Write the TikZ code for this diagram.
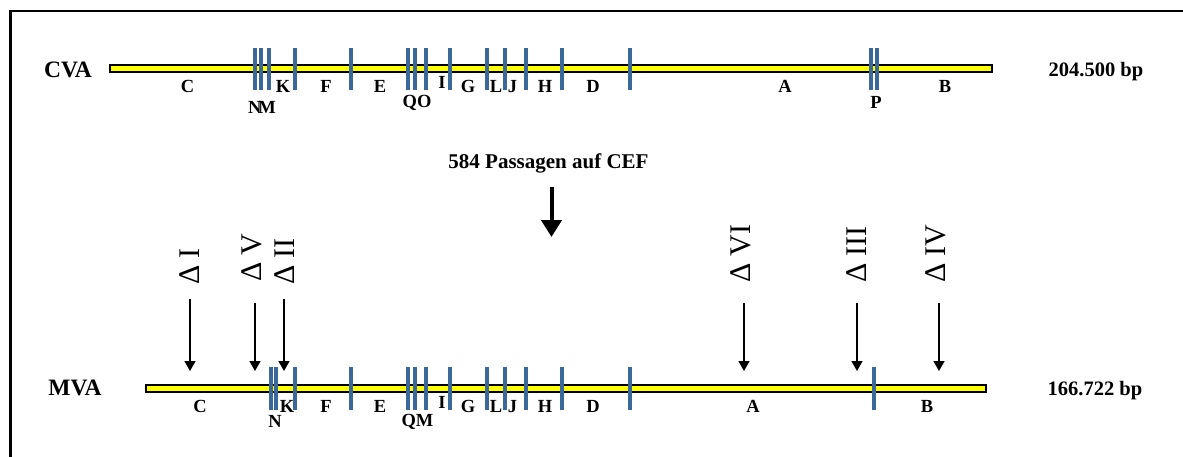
\documentclass[tikz,border=0pt]{standalone}
\usepackage{fontspec}
\setmainfont{Liberation Serif}
\usetikzlibrary{arrows.meta}
\definecolor{locusblue}{RGB}{58,104,152}
\definecolor{genomeyellow}{RGB}{255,255,0}
\begin{document}
\begin{tikzpicture}[x=1pt,y=-1pt,
  genome/.style={draw=black, line width=1.2pt, fill=genomeyellow, inner sep=0pt, minimum height=7pt},
  locus/.style={draw=locusblue, line width=4pt},
  gene/.style={font=\bfseries\fontsize{18.5}{19}\selectfont, anchor=base, inner sep=0pt},
  strain/.style={font=\bfseries\fontsize{23.5}{24}\selectfont, anchor=base, inner sep=0pt},
  sizelabel/.style={font=\bfseries\fontsize{20.5}{22}\selectfont, anchor=base, inner sep=0pt},
  deletion/.style={font=\fontsize{30}{32}\selectfont, rotate=90, anchor=west, inner sep=0pt},
  delarrow/.style={line width=1.5pt, -{Triangle[length=10pt,width=11pt]}},
  passarrow/.style={line width=4pt, -{Triangle[length=17pt,width=20pt]}},
]
\useasboundingbox (0,0) rectangle (1183,456);

% frame
\draw[line width=2.5pt] (10.3,460) -- (10.3,11) -- (1190,11);

% ---------- CVA genome ----------
\node[strain] (cva) at (68,77) {CVA};
\node[genome, minimum width=882pt] (cvabar) at (551,68.5) {};
\foreach \x in {255,260.5,269,295,351,407.5,415,425.5,450,487,505,525.5,562,630,871,877}
  \draw[locus] (\x,48) -- (\x,90);
\node[sizelabel] (cvasize) at (1096,76.5) {204.500 bp};
\foreach \g/\x/\y in {C/187.5/92.5, K/283/92.5, F/326/92.5, E/380/92.5, I/442/88,
                      G/468/92.5, L/496/92.5, J/512.5/92.5, H/545/92.5, D/593/92.5,
                      A/785/92.5, B/945/92.5, QO/417/107.5, P/876/108}
  \node[gene] (cva-\g) at (\x,\y) {\g};
\node[gene] (cva-NM) at (262,113) {N\kern-3ptM};

% ---------- passage ----------
\node[font=\bfseries\fontsize{21}{22}\selectfont, anchor=base, inner sep=0pt] (passage) at (548.5,168) {584 Passagen auf CEF};
\coordinate (pass-from) at (551.5,187);
\coordinate (pass-to) at (551.5,237);
\draw[passarrow] (pass-from) -- (pass-to);

% ---------- MVA genome ----------
\node[strain] (mva) at (75,395) {MVA};
\node[genome, minimum width=840pt] (mvabar) at (566,388.5) {};
\foreach \x in {271,276,295,351,407.5,415,425.5,450,487,505,525.5,562,630,874}
  \draw[locus] (\x,367) -- (\x,410);
\node[sizelabel] (mvasize) at (1095,395) {166.722 bp};
\foreach \g/\x/\y in {C/200/412, K/287/412, F/326/412, E/380/412, I/442/408,
                      G/468/412, L/496/412, J/512.5/412, H/545/412, D/593/412,
                      A/753/412, B/927/412, N/275/427, QM/417.5/426.5}
  \node[gene] (mva-\g) at (\x,\y) {\g};

% ---------- deletions ----------
\foreach \n/\lx/\ly/\ax/\ay in {I/190/285/190/299, V/252/282/255/303, II/285/285/284/299,
                                VI/741/283/744/303, III/857/283/857/303, IV/936/283/939/303} {
  \node[deletion] (del-\n) at (\lx,\ly) {Δ \n};
  \coordinate (del-\n-from) at (\ax,\ay);
  \coordinate (del-\n-to) at (\ax,371);
  \draw[delarrow] (del-\n-from) -- (del-\n-to);
}
\end{tikzpicture}
\end{document}
